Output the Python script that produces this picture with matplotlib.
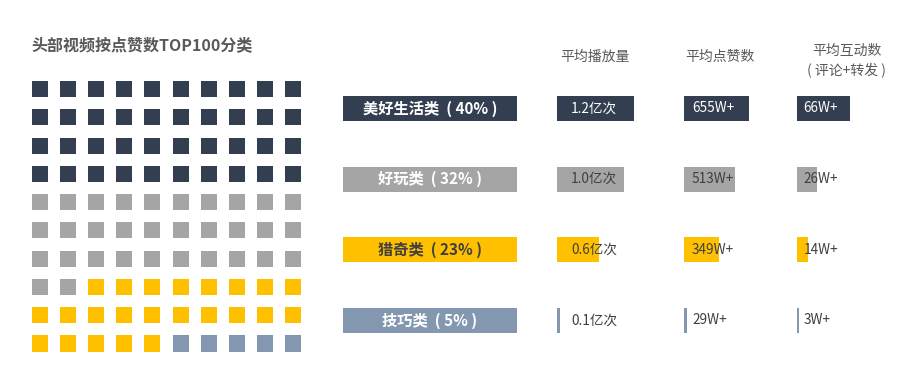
import matplotlib
matplotlib.use("Agg")
import matplotlib.pyplot as plt
from matplotlib.patches import Rectangle

plt.rcParams['font.family'] = ['Noto Sans CJK SC', 'DejaVu Sans']

# ---- data ----
categories = ["美好生活类", "好玩类", "猎奇类", "技巧类"]
shares = [40, 32, 23, 5]
colors = ["#333F50", "#A5A5A5", "#FFC000", "#8497B0"]
label_text_colors = ["white", "white", "#404040", "white"]

play_values = [1.2, 1.05, 0.65, 0.05]
play_labels = ["1.2亿次", "1.0亿次", "0.6亿次", "0.1亿次"]
like_values = [655, 513, 349, 29]
like_labels = ["655W+", "513W+", "349W+", "29W+"]
inter_values = [66, 26, 14, 3]
inter_labels = ["66W+", "26W+", "14W+", "3W+"]

headers = ["平均播放量", "平均点赞数", "平均互动数\n ( 评论+转发 ) "]
title = "头部视频按点赞数TOP100分类"

W, H = 910, 375
fig = plt.figure(figsize=(W / 100, H / 100), dpi=100)
fig.patch.set_facecolor("white")


def fx(px):
    return px / W


def fy(py):
    return 1 - py / H


# ---- title ----
fig.text(fx(31), fy(45), title, fontsize=11.5, fontweight="bold",
         color="#595959", ha="left", va="center")

# ---- waffle ----
wax = fig.add_axes([fx(26), fy(357.6), fx(281), 282.7 / H])
wax.set_xlim(-0.5, 9.5)
wax.set_ylim(9.5, -0.5)
wax.axis("off")
sq = 0.57
idx = 0
for share, col in zip(shares, colors):
    for _ in range(share):
        r, c = divmod(idx, 10)
        wax.add_patch(Rectangle((c - sq / 2, r - sq / 2), sq, sq,
                                facecolor=col, edgecolor="none"))
        idx += 1

# ---- row axes ----
row_bottom = fy(355.8)
row_height = 282.7 / H
bar_h = 0.354
rows = list(range(len(categories)))

# label bars
lax = fig.add_axes([fx(343), row_bottom, fx(174), row_height])
lax.barh(rows, [1] * len(rows), height=bar_h, color=colors, left=0)
lax.set_xlim(0, 1)
lax.set_ylim(3.5, -0.5)
lax.axis("off")
for i, (cat, sh) in enumerate(zip(categories, shares)):
    lax.text(0.5, i, f"{cat}  ( {sh}% )", ha="center", va="center",
             fontsize=11, fontweight="bold", color=label_text_colors[i])


def value_axes(left_px, px_per_unit, values, labels, text_off, txt_colors):
    width_px = 110
    ax = fig.add_axes([fx(left_px), row_bottom, fx(width_px), row_height])
    ax.barh(rows, values, height=bar_h, color=colors, left=0)
    ax.set_xlim(0, width_px / px_per_unit)
    ax.set_ylim(3.5, -0.5)
    ax.axis("off")
    for i, lab in enumerate(labels):
        ax.annotate(lab, xy=(0, i), xytext=(text_off, 0),
                    textcoords="offset pixels", ha="left", va="center",
                    fontsize=9.8, fontweight="medium", color=txt_colors[i])
    return ax


val_txt_colors = ["white", "#3F3F3F", "#3F3F3F", "#3F3F3F"]
value_axes(557, 77 / 1.2, play_values, play_labels, 14, val_txt_colors)
value_axes(684, 65 / 655, like_values, like_labels, 8, val_txt_colors)
value_axes(796.5, 53 / 66, inter_values, inter_labels, 7, val_txt_colors)

# ---- headers ----
fig.text(fx(595), fy(57), headers[0], ha="center", va="center",
         fontsize=10, color="#595959")
fig.text(fx(720), fy(57), headers[1], ha="center", va="center",
         fontsize=10, color="#595959")
fig.text(fx(847), fy(61), headers[2], ha="center", va="center",
         fontsize=10, color="#595959", linespacing=1.5)

fig.savefig("out.png", dpi=100, facecolor="white")
